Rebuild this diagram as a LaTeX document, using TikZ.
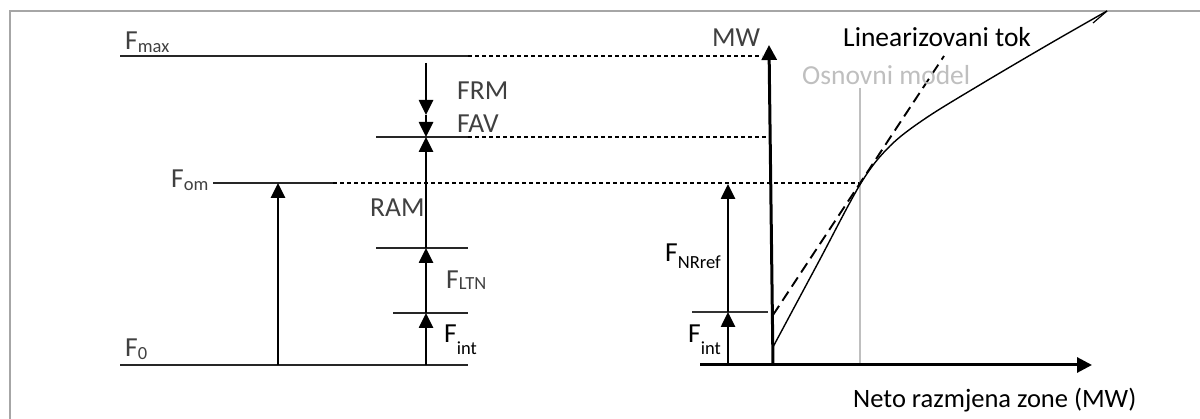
\documentclass[tikz,border=0pt]{standalone}
\usepackage{fontspec}
\setmainfont{Carlito}
\usetikzlibrary{arrows.meta}
\definecolor{txtgray}{HTML}{404040}
\definecolor{modgray}{HTML}{BFBFBF}
\definecolor{framegray}{HTML}{A6A6A6}
\newcommand{\sbs}[2][3pt]{\raisebox{-#1}{\fontsize{18.5}{18.5}\selectfont #2}}

\begin{document}
\begin{tikzpicture}[x=1pt, y=-1pt,
  font=\fontsize{27.5}{30}\selectfont,
  lbl/.style={anchor=base west, inner sep=0pt, text=txtgray},
  lblk/.style={anchor=base west, inner sep=0pt, text=black},
  lvl/.style={line width=1.4pt, black!85},
  guide/.style={line width=1.1pt, dash pattern=on 4pt off 3pt},
  arr/.style={-{Triangle[length=15pt, width=14pt]}, line width=2.6pt},
  axis/.style={-{Triangle[length=15pt, width=15pt]}, line width=3pt}]
\useasboundingbox (0,0) rectangle (1200,419);
\draw[framegray, line width=2.4pt] (10,419) |- (1200,11);
% levels on the left
\coordinate (max0) at (120,56);  \coordinate (max1) at (468,56);  \coordinate (max2) at (762,56);
\coordinate (fav0) at (376,137); \coordinate (fav1) at (468,137); \coordinate (fav2) at (769,137);
\coordinate (om0) at (213,183);  \coordinate (om1) at (333,183);  \coordinate (om2) at (861,183);
\coordinate (ram0) at (376,248); \coordinate (ram1) at (468,248);
\coordinate (ltn0) at (393,313); \coordinate (ltn1) at (468,313);
\coordinate (zero0) at (120,365); \coordinate (zero1) at (468,365);
\draw[lvl] (max0) -- (max1); \draw[lvl] (fav0) -- (fav1); \draw[lvl] (om0) -- (om1);
\draw[lvl] (ram0) -- (ram1); \draw[lvl] (ltn0) -- (ltn1); \draw[lvl] (zero0) -- (zero1);
\draw[guide] (max1) -- (max2); \draw[guide] (fav1) -- (fav2); \draw[guide] (om1) -- (om2);
% arrows of the reserve column
\coordinate (frmT) at (426,63); \coordinate (frmB) at (426,115);
\coordinate (favB) at (426,137); \coordinate (ramB) at (426,248);
\coordinate (ltnB) at (426,313); \coordinate (intB) at (426,365);
\coordinate (omB) at (278,365); \coordinate (omT) at (278,183);
\draw[arr] (frmT) -- (frmB); \draw[arr] (frmB) -- (favB);
\draw[arr] (ramB) -- (favB); \draw[arr] (ltnB) -- (ramB);
\draw[arr] (intB) -- (ltnB); \draw[arr] (omB) -- (omT);
\node[lbl] (Fmax) at (125,50) {F\sbs{max}};
\node[lbl] (Fom) at (171,188) {F\sbs{om}};
\node[lbl] (F0) at (125,357) {F\sbs{0}};
\node[lbl] (FRM) at (457,100) {FRM};
\node[lbl] (FAV) at (457,133) {FAV};
\node[lbl] (RAM) at (370,217) {RAM};
\node[lbl] (FLTN) at (446,289) {F\sbs[1pt]{LTN}};
\node[lblk] (FintL) at (444,343) {F\sbs[12pt]{int}};
% right chart
\coordinate (xa0) at (700,365); \coordinate (xa1) at (1092,365);
\coordinate (ya0) at (773,365); \coordinate (ya1) at (769,45);
\coordinate (nrB) at (728,312); \coordinate (nrT) at (728,184); \coordinate (nrI) at (728,365);
\coordinate (nr0) at (692,312); \coordinate (nr1) at (768,312);
\coordinate (lin0) at (773,315); \coordinate (lin1) at (944,56);
\coordinate (mod0) at (860,88); \coordinate (mod1) at (860,365);
\draw[modgray, line width=1.8pt] (mod0) -- (mod1);
\draw[line width=1.3pt, black!80] (nr0) -- (nr1);
\draw[arr] (nrI) -- (nrB); \draw[arr] (nrB) -- (nrT);
\draw[line width=1.9pt, dash pattern=on 11pt off 6pt] (lin0) -- (lin1);
\draw[line width=1.4pt] plot[smooth, tension=0.55] coordinates
  {(773,347) (818,263) (861,183) (890,146) (926,118) (983,83) (1051,43) (1107,11)};
\coordinate (tipC) at (1107,11); \coordinate (barbC) at (1093,23);
\draw[line width=1.2pt] (barbC) -- (tipC);
\draw[axis] (xa0) -- (xa1);
\draw[axis] (ya0) -- (ya1);
\node[lbl] (MW) at (712,47) {MW};
\node[lblk] (FNR) at (665,262) {F\sbs[7pt]{NRref}};
\node[lblk] (FintR) at (688,343) {F\sbs[12pt]{int}};
\node[lblk] (lin) at (843,47) {Linearizovani tok};
\node[lbl, text=modgray] (osn) at (802,85) {Osnovni model};
\node[lblk, font=\fontsize{26.5}{30}\selectfont] (neto) at (853,408) {Neto razmjena zone (MW)};
\end{tikzpicture}
\end{document}
